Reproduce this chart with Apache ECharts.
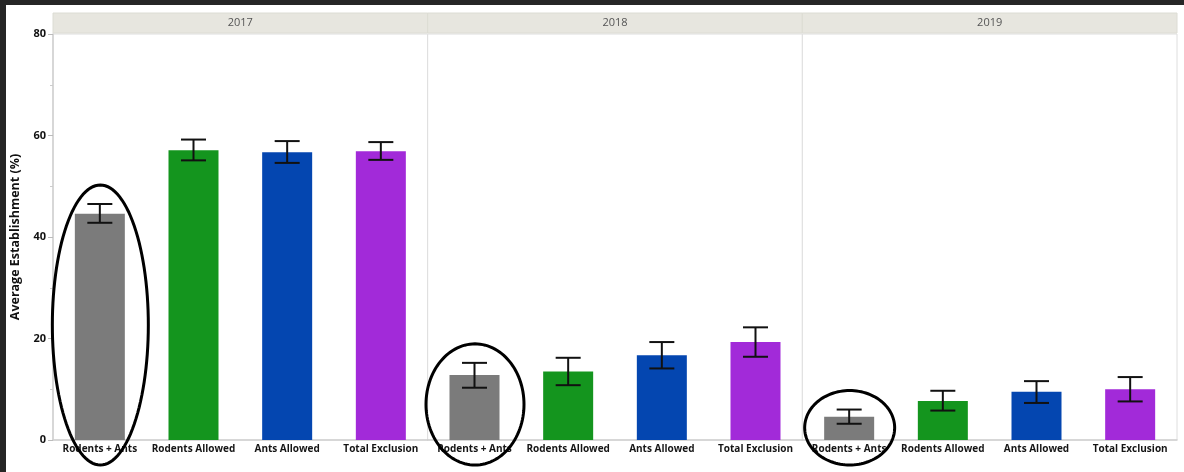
<!DOCTYPE html>
<html>
<head>
<meta charset="utf-8">
<script src="https://cdn.jsdelivr.net/npm/echarts@6/dist/echarts.min.js"></script>
<style>
  html, body { margin: 0; padding: 0; background: #262626; width: 1184px; height: 472px; overflow: hidden; }
  #chart { position: absolute; left: 6px; top: 5px; width: 1178px; height: 467px; background: #ffffff; }
</style>
</head>
<body>
<div id="chart"></div>
<script>
// Seedling establishment by exclusion treatment, one panel per year
const years = ['2017', '2018', '2019'];
const treatments = ['Rodents + Ants', 'Rodents Allowed', 'Ants Allowed', 'Total Exclusion'];
const treatmentColors = ['#7b7b7b', '#14951e', '#0446b0', '#a22ad9'];

const mean2017 = [44.6, 57.1, 56.7, 56.9];
const low2017  = [42.8, 55.1, 54.6, 55.2];
const high2017 = [46.5, 59.2, 58.9, 58.7];

const mean2018 = [12.8, 13.5, 16.7, 19.3];
const low2018  = [10.3, 10.8, 14.1, 16.4];
const high2018 = [15.2, 16.2, 19.3, 22.2];

const mean2019 = [4.6, 7.7, 9.5, 10.0];
const low2019  = [3.2, 5.8, 7.3, 7.6];
const high2019 = [6.0, 9.7, 11.6, 12.4];

const yMin = 0, yMax = 80, yStep = 20;
const yTitle = 'Average Establishment (%)';

const means = [mean2017, mean2018, mean2019];
const lows = [low2017, low2018, low2019];
const highs = [high2017, high2018, high2019];

// circled treatment in each panel
const highlighted = [0, 0, 0];
const ringRx = [48, 49, 45];

// panel layout (pixels inside the chart box)
const plotLeft = 47, plotRight = 1171, plotTop = 29, plotBottom = 435;
const stripTop = 8;
const panelW = (plotRight - plotLeft) / years.length;

const font = "'Open Sans', 'Noto Sans', sans-serif";

const grids = [], xAxes = [], yAxes = [], series = [];
years.forEach((yr, g) => {
  grids.push({
    left: plotLeft + g * panelW,
    top: plotTop,
    width: panelW,
    height: plotBottom - plotTop,
    show: true,
    borderColor: '#dedede',
    borderWidth: 1,
    backgroundColor: '#ffffff'
  });
  xAxes.push({
    type: 'category',
    gridIndex: g,
    data: treatments,
    axisLine: { show: true, lineStyle: { color: '#cfcfcf', width: 1.5 } },
    axisTick: { show: false },
    axisLabel: {
      interval: 0, margin: 4,
      color: '#151515', fontFamily: font, fontWeight: 'bold', fontSize: 10
    }
  });
  yAxes.push({
    type: 'value',
    gridIndex: g,
    min: yMin, max: yMax, interval: yStep,
    show: g === 0,
    name: g === 0 ? yTitle : '',
    nameLocation: 'middle',
    nameGap: 31,
    nameTextStyle: { color: '#111', fontFamily: font, fontWeight: 'bold', fontSize: 12.5 },
    axisLine: { show: true, lineStyle: { color: '#cfcfcf', width: 1.5 } },
    axisTick: { show: true, length: 5, lineStyle: { color: '#bbbbbb' } },
    minorTick: { show: true, splitNumber: 2, length: 3, lineStyle: { color: '#cccccc' } },
    splitLine: { show: false },
    axisLabel: { color: '#111', fontFamily: font, fontWeight: 'bold', fontSize: 11, margin: 7 }
  });

  series.push({
    type: 'bar',
    xAxisIndex: g, yAxisIndex: g,
    barWidth: 50,
    data: means[g].map((v, i) => ({ value: v, itemStyle: { color: treatmentColors[i] } })),
    silent: true
  });

  series.push({
    type: 'custom',
    xAxisIndex: g, yAxisIndex: g,
    data: treatments.map((t, i) => [i, lows[g][i], highs[g][i]]),
    z: 5,
    renderItem: function (params, api) {
      const i = api.value(0);
      const lo = api.coord([i, api.value(1)]);
      const hi = api.coord([i, api.value(2)]);
      const half = 12.5;
      const st = { stroke: '#111', lineWidth: 2 };
      return {
        type: 'group',
        children: [
          { type: 'line', shape: { x1: lo[0], y1: lo[1], x2: hi[0], y2: hi[1] }, style: st },
          { type: 'line', shape: { x1: hi[0] - half, y1: hi[1], x2: hi[0] + half, y2: hi[1] }, style: st },
          { type: 'line', shape: { x1: lo[0] - half, y1: lo[1], x2: lo[0] + half, y2: lo[1] }, style: st }
        ]
      };
    }
  });
});

const chart = echarts.init(document.getElementById('chart'), null, { renderer: 'canvas' });
chart.setOption({
  backgroundColor: '#ffffff',
  animation: false,
  grid: grids,
  xAxis: xAxes,
  yAxis: yAxes,
  series: series
});

// year header strips and hand-drawn rings around the highlighted bars
const gfx = [];
years.forEach((yr, g) => {
  const x0 = plotLeft + g * panelW;
  gfx.push({
    type: 'rect',
    shape: { x: x0, y: stripTop, width: panelW, height: plotTop - stripTop - 1 },
    style: { fill: '#e7e6df', stroke: '#dcdcd4', lineWidth: 1 },
    z: 10
  });
  gfx.push({
    type: 'text',
    x: x0 + panelW / 2, y: (stripTop + plotTop - 1) / 2,
    style: {
      text: yr, fill: '#555', font: '11px ' + font,
      align: 'center', verticalAlign: 'middle'
    },
    z: 11
  });

  const k = highlighted[g];
  const base = chart.convertToPixel({ xAxisIndex: g, yAxisIndex: g }, [k, 0]);
  const top = chart.convertToPixel({ xAxisIndex: g, yAxisIndex: g }, [k, highs[g][k]]);
  const yTop = top[1] - 19, yBot = base[1] + 25;
  const cx = base[0] + 0.5, cy = (yTop + yBot) / 2;
  const rx = ringRx[g], ry = (yBot - yTop) / 2;
  const pts = [];
  for (let s = 0; s < 120; s++) {
    const a = (s / 120) * Math.PI * 2;
    pts.push([cx + rx * Math.cos(a), cy + ry * Math.sin(a)]);
  }
  gfx.push({
    type: 'polygon',
    shape: { points: pts },
    style: { fill: 'none', stroke: '#000', lineWidth: 3 },
    z: 20
  });
});
chart.setOption({ graphic: gfx });
</script>
</body>
</html>
